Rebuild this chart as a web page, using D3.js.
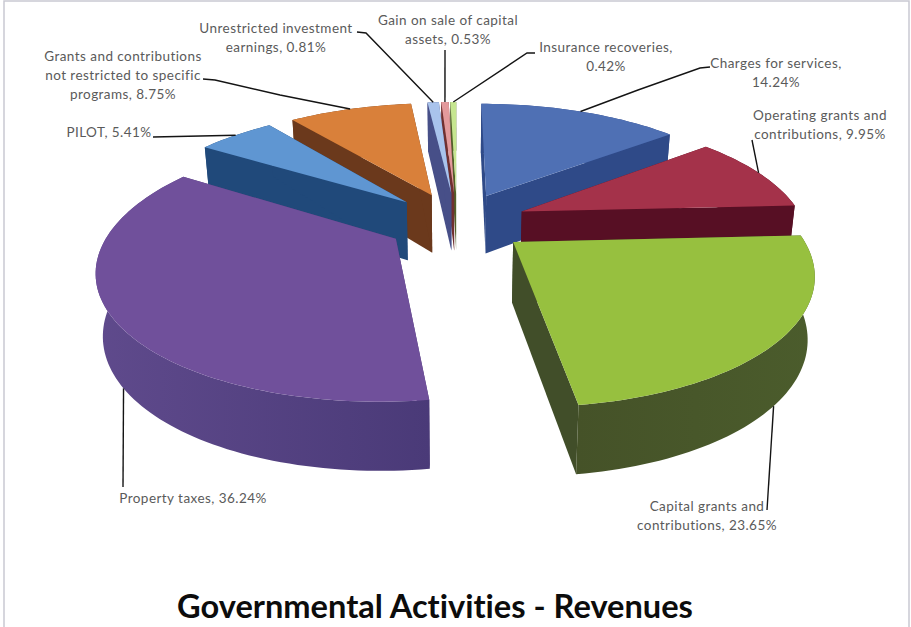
<!DOCTYPE html>
<html>
<head>
<meta charset="utf-8">
<script src="https://cdnjs.cloudflare.com/ajax/libs/d3/7.8.5/d3.min.js"></script>
<style>
  html, body { margin: 0; padding: 0; background: #fff; }
  svg { display: block; }
  text { font-family: Lato, "Open Sans", sans-serif; font-variant-ligatures: none; font-feature-settings: "liga" 0; }
</style>
</head>
<body>
<svg id="chart" width="911" height="627"></svg>
<script>
// Governmental activities revenue shares, clockwise from twelve o'clock.
const categories = [
  "Charges for services",
  "Operating grants and contributions",
  "Capital grants and contributions",
  "Property taxes",
  "PILOT",
  "Grants and contributions not restricted to specific programs",
  "Unrestricted investment earnings",
  "Gain on sale of capital assets",
  "Insurance recoveries"
];
const shares = [14.24, 9.95, 23.65, 36.24, 5.41, 8.75, 0.81, 0.53, 0.42];

// Face colours per slice; rim walls shade from left to right.
const topColors  = ["#4f70b4", "#a4324a", "#97c03f", "#70509b", "#5f96d2", "#d9803a", "#a9c3ec", "#e39a9c", "#c6e690"];
const rimLeft    = ["#30498a", "#5e1228", "#455228", "#5f4a8c", "#234f7f", "#74401f", "#4e5b92", "#7d3a3a", "#5d6c30"];
const rimRight   = ["#30498a", "#500c20", "#4b5c2c", "#4a3a78", "#1d4570", "#68371a", "#454f85", "#703030", "#525f2a"];
const wallRadial = ["#2f4a88", "#570f24", "#414e29", "#4f3c78", "#20497a", "#6b391c", "#474f88", "#703030", "#525f2a"];

// Label wrapping, layout and leader routing, in slice order.
const labelLines = [
  ["Charges for services,", "14.24%"],
  ["Operating grants and", "contributions, 9.95%"],
  ["Capital grants and", "contributions, 23.65%"],
  ["Property taxes, 36.24%"],
  ["PILOT, 5.41%"],
  ["Grants and contributions", "not restricted to specific", "programs, 8.75%"],
  ["Unrestricted investment", "earnings, 0.81%"],
  ["Gain on sale of capital", "assets, 0.53%"],
  ["Insurance recoveries,", "0.42%"]
];
const labelAnchors = [[776, 68], [820, 120], [707, 511], [193, 503], [109, 137], [123, 61], [276, 33], [448, 25], [606, 52]];
const leaderRoutes = [
  [[710, 67], [700, 68], [638, 90]],
  [[752, 140]],
  [[767, 510]],
  [[123, 487]],
  [[153, 137]],
  [[203, 79], [215, 80], [280, 95]],
  [[357, 32], [366, 33]],
  [[445, 50]],
  [[535, 53], [527, 53]]
];
// Position along each slice's arc where the leader attaches, and on which rim.
const leaderAlong = [0.5, 0.5, 0.51, 0.48, 0.5, 0.5, 0.5, 0.5, 0.5];
const leaderOnLowerRim = [false, false, true, true, false, false, false, false, false];

const titleText = "Governmental Activities - Revenues";

// Projection of the tilted pie plane onto the page.
const pieCenter = { x: 457, y: 222 };
const radiusX = 282, radiusY = 121, perspective = 0.208;
const explode = 0.25;
const lowerPlaneShrink = 0.98;
const thickness = d3.scaleLinear().domain([-1, 1]).range([51, 68]);

function project(u, v, lower) {
  const s = 1 / (1 - perspective * v);
  const shrink = lower ? lowerPlaneShrink : 1;
  return [
    pieCenter.x + u * radiusX * s * shrink,
    pieCenter.y + v * radiusY * s + (lower ? thickness(v) : 0)
  ];
}

const svg = d3.select("#chart");
const pathOf = d3.line();
const defs = svg.append("defs");

// Frame around the chart area.
svg.append("rect")
  .attr("x", 4).attr("y", 1).attr("width", 905).attr("height", 640)
  .attr("fill", "#fff").attr("stroke", "#c9c9d2").attr("stroke-width", 1.5);

const arcs = d3.pie().sort(null).startAngle(0).endAngle(2 * Math.PI)(shares);

const slices = arcs.map((a, i) => {
  const mid = (a.startAngle + a.endAngle) / 2;
  const ox = explode * Math.sin(mid), oy = -explode * Math.cos(mid);
  const rim = t => {
    const th = a.startAngle + t * (a.endAngle - a.startAngle);
    return [ox + Math.sin(th), oy - Math.cos(th)];
  };
  return { i, a, mid, ox, oy, rim };
});

function wallQuad(p, q) {
  return [project(p[0], p[1], false), project(q[0], q[1], false),
          project(q[0], q[1], true), project(p[0], p[1], true)];
}

const pieLayer = svg.append("g");

// Paint the slices from the far side of the pie to the near side.
slices.slice().sort((a, b) => -Math.cos(a.mid) - -Math.cos(b.mid)).forEach(sl => {
  const g = pieLayer.append("g");
  const steps = Math.max(2, Math.ceil((sl.a.endAngle - sl.a.startAngle) * 40));
  const rimPts = d3.range(steps + 1).map(k => sl.rim(k / steps));
  const apex = [sl.ox, sl.oy];

  const upper = rimPts.map(p => project(p[0], p[1], false));
  const lower = rimPts.map(p => project(p[0], p[1], true));
  const rimOutline = [...upper, ...lower.slice().reverse()];
  const [xMin, xMax] = d3.extent(rimOutline, d => d[0]);

  const gradient = defs.append("linearGradient")
    .attr("id", "rim-" + sl.i)
    .attr("gradientUnits", "userSpaceOnUse")
    .attr("x1", xMin).attr("x2", xMax).attr("y1", 0).attr("y2", 0);
  gradient.append("stop").attr("offset", 0).attr("stop-color", rimLeft[sl.i]);
  gradient.append("stop").attr("offset", 1).attr("stop-color", rimRight[sl.i]);

  const drawRim = () => g.append("path")
    .attr("d", pathOf(rimOutline) + "Z")
    .attr("fill", "url(#rim-" + sl.i + ")");

  const drawRadials = () => g.selectAll("path.radial")
    .data([wallQuad(apex, rimPts[0]), wallQuad(apex, rimPts[steps])])
    .join("path")
    .attr("class", "radial")
    .attr("d", d => pathOf(d) + "Z")
    .attr("fill", wallRadial[sl.i]);

  // Far slices show their cut faces in front of the rim; near slices the reverse.
  if (-Math.cos(sl.mid) < 0) { drawRim(); drawRadials(); }
  else { drawRadials(); drawRim(); }

  const face = [apex, ...rimPts].map(p => project(p[0], p[1], false));
  g.append("path")
    .attr("d", pathOf(face) + "Z")
    .attr("fill", topColors[sl.i]);
});

// Leader lines run from the label out to the slice rim.
svg.append("g").selectAll("path")
  .data(slices)
  .join("path")
  .attr("d", sl => {
    const p = sl.rim(leaderAlong[sl.i]);
    const end = project(p[0], p[1], leaderOnLowerRim[sl.i]);
    return pathOf([...leaderRoutes[sl.i], end]);
  })
  .attr("fill", "none")
  .attr("stroke", "#141414")
  .attr("stroke-width", 1.4);

// Data labels.
const labels = svg.append("g").selectAll("text")
  .data(slices)
  .join("text")
  .attr("text-anchor", "middle")
  .attr("fill", "#5a5a5a")
  .attr("font-size", 13.5)
  .attr("letter-spacing", 0.45)
  .attr("data-category", sl => categories[sl.i]);

labels.selectAll("tspan")
  .data(sl => labelLines[sl.i].map((line, n) => ({ line, n, at: labelAnchors[sl.i] })))
  .join("tspan")
  .attr("x", d => d.at[0])
  .attr("y", d => d.at[1] + d.n * 19)
  .text(d => d.line);

svg.append("text")
  .attr("x", 435).attr("y", 618)
  .attr("text-anchor", "middle")
  .attr("font-size", 32.6)
  .attr("font-weight", 700)
  .attr("fill", "#0c0c0c")
  .text(titleText);
</script>
</body>
</html>
